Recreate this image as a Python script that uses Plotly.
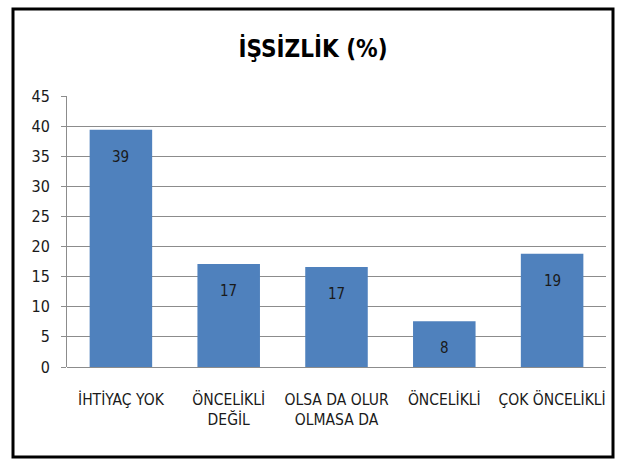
import plotly.graph_objects as go

categories = ["İHTİYAÇ YOK", "ÖNCELİKLİ<br>DEĞİL", "OLSA DA OLUR<br>OLMASA DA", "ÖNCELİKLİ", "ÇOK ÖNCELİKLİ"]
values = [39.4, 17.1, 16.6, 7.6, 18.8]
y_ticks = [0, 5, 10, 15, 20, 25, 30, 35, 40, 45]

FONT = "DejaVu Sans Condensed, Roboto, sans-serif"

fig = go.Figure(
    go.Bar(
        x=categories,
        y=values,
        marker=dict(color="#4F81BD", line=dict(width=0)),
        width=0.58,
        hoverinfo="skip",
    )
)

# value labels sit a little below the top of each bar
for cat, val in zip(categories, values):
    fig.add_annotation(
        x=cat,
        y=val,
        text=f"{val:.0f}",
        showarrow=False,
        yanchor="middle",
        yshift=-27,
        font=dict(family=FONT, size=15, color="#1a1a1a"),
    )

fig.update_layout(
    width=626,
    height=465,
    margin=dict(l=67, r=20, t=96, b=98),
    paper_bgcolor="white",
    plot_bgcolor="white",
    showlegend=False,
    title=dict(
        text="<b>İŞSİZLİK (%)</b>",
        x=0.5,
        xanchor="center",
        y=1 - 49 / 465,
        yanchor="middle",
        font=dict(family=FONT, size=24, color="black"),
    ),
    font=dict(family=FONT, size=15, color="black"),
)

fig.update_xaxes(
    showgrid=False,
    showline=False,
    ticks="",
    ticklabelstandoff=21,
    tickfont=dict(family=FONT, size=15.5, color="#1a1a1a"),
)
fig.update_yaxes(
    range=[0, 45],
    tickvals=y_ticks,
    showgrid=True,
    gridcolor="#8c8c8c",
    gridwidth=1,
    zeroline=True,
    zerolinecolor="#8c8c8c",
    zerolinewidth=1,
    showline=True,
    linecolor="#8c8c8c",
    linewidth=1,
    ticks="outside",
    ticklen=5,
    tickcolor="#8c8c8c",
    ticklabelstandoff=8,
    tickfont=dict(family=FONT, size=16, color="#1a1a1a"),
)

# outer black frame around the whole chart
fig.add_shape(
    type="rect",
    xref="paper",
    yref="paper",
    x0=(13 - 67) / 539,
    x1=(613 - 67) / 539,
    y0=(367 - 457) / 271,
    y1=(367 - 9) / 271,
    line=dict(color="black", width=3),
    fillcolor="rgba(0,0,0,0)",
    layer="above",
)

fig.write_html("out.html")
